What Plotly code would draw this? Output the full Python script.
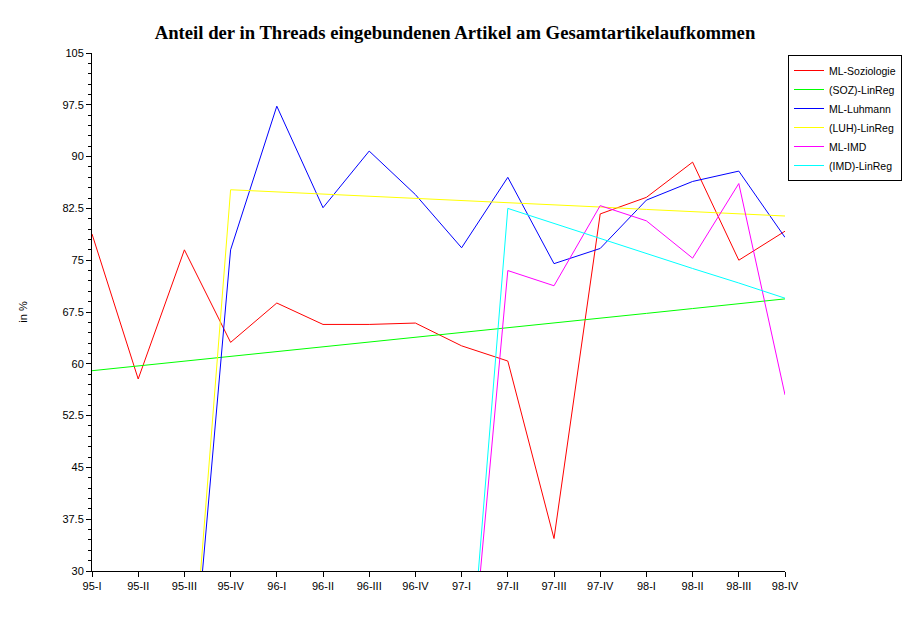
import plotly.graph_objects as go

categories = ["95-I", "95-II", "95-III", "95-IV", "96-I", "96-II", "96-III", "96-IV",
              "97-I", "97-II", "97-III", "97-IV", "98-I", "98-II", "98-III", "98-IV"]

ml_soziologie = [78.8, 57.8, 76.5, 63.1, 68.8, 65.7, 65.7, 65.9,
                 62.6, 60.4, 34.7, 81.7, 84.1, 89.2, 75.0, 79.2]
soz_linreg = [59.0, 59.7, 60.4, 61.1, 61.8, 62.5, 63.2, 63.9,
              64.5, 65.2, 65.9, 66.6, 67.3, 68.0, 68.7, 69.4]
ml_luhmann = [0, 0, 0, 76.5, 97.3, 82.6, 90.8, 84.5,
              76.8, 87.0, 74.5, 76.7, 83.7, 86.4, 87.9, 78.3]
luh_linreg = [0, 0, 0, 85.2, 84.9, 84.6, 84.25, 83.9,
              83.6, 83.3, 83.0, 82.7, 82.35, 82.0, 81.7, 81.4]
ml_imd = [0, 0, 0, 0, 0, 0, 0, 0,
          0, 73.5, 71.3, 82.9, 80.7, 75.3, 86.1, 55.5]
imd_linreg = [0, 0, 0, 0, 0, 0, 0, 0,
              0, 82.5, 80.3, 78.2, 76.0, 73.8, 71.7, 69.5]

series = [
    ("ML-Soziologie", ml_soziologie, "#FF0000"),
    ("(SOZ)-LinReg", soz_linreg, "#00FF00"),
    ("ML-Luhmann", ml_luhmann, "#0000FF"),
    ("(LUH)-LinReg", luh_linreg, "#FFFF00"),
    ("ML-IMD", ml_imd, "#FF00FF"),
    ("(IMD)-LinReg", imd_linreg, "#00FFFF"),
]

fig = go.Figure()
for name, vals, color in series:
    fig.add_trace(go.Scatter(x=categories, y=vals, name=name, mode="lines",
                             line=dict(color=color, width=1)))

tick_font = dict(family="Liberation Sans, Arial, sans-serif", size=11, color="black")

# page body has an 8px default margin, so the figure is sized/offset to compensate
W, H = 902, 618
fig.update_layout(
    width=W, height=H,
    margin=dict(l=84, r=125, t=45, b=55, autoexpand=False),
    paper_bgcolor="white", plot_bgcolor="white",
    title=dict(text="<b>Anteil der in Threads eingebundenen Artikel am Gesamtartikelaufkommen</b>",
               x=(455 - 8) / W, xanchor="center", y=1 - 24 / H, yanchor="middle",
               font=dict(family="Liberation Serif, Times New Roman, serif", size=18.7, color="black")),
    legend=dict(x=(788 - 92) / 693, xanchor="left", y=1 - 2 / 518, yanchor="top",
                bordercolor="black", borderwidth=1, bgcolor="white",
                font=dict(family="Liberation Sans, Arial, sans-serif", size=10.5, color="black"),
                itemwidth=30, tracegroupgap=0),
    xaxis=dict(type="category", range=[0, 15], showgrid=False, zeroline=False,
               showline=True, linecolor="black", linewidth=1,
               ticks="outside", ticklen=5, tickcolor="black",
               tickfont=tick_font),
    yaxis=dict(range=[30, 105], tick0=30, dtick=7.5, showgrid=False, zeroline=False,
               showline=True, linecolor="black", linewidth=1,
               ticks="outside", ticklen=5, tickcolor="black",
               tickfont=tick_font,
               minor=dict(dtick=1.5, ticks="outside", ticklen=3, tickcolor="black"),
               title=dict(text="in %", standoff=32,
                          font=dict(family="Liberation Sans, Arial, sans-serif", size=11, color="black"))),
    showlegend=True,
)

fig.write_html("out.html")
